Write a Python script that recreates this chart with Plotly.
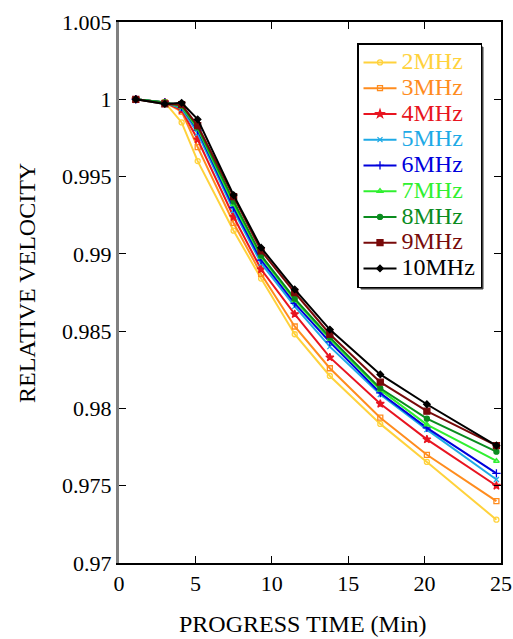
import plotly.graph_objects as go

time_min = [1.1, 3.0, 4.1, 5.15, 7.5, 9.3, 11.5, 13.8, 17.1, 20.15, 24.7]

v_2mhz = [1.0, 0.9998, 0.9985, 0.9960, 0.9915, 0.9884, 0.9848, 0.9821, 0.9790, 0.97654, 0.9728]
v_3mhz = [1.0, 0.9998, 0.9992, 0.9969, 0.9920, 0.9887, 0.9853, 0.9826, 0.9794, 0.9770, 0.9740]
v_4mhz = [1.0, 0.9998, 0.9993, 0.9974, 0.9924, 0.9890, 0.9861, 0.9833, 0.9803, 0.9780, 0.9750]
v_5mhz = [1.0, 0.9998, 0.9994, 0.9978, 0.9928, 0.9894, 0.9866, 0.9840, 0.9809, 0.97863, 0.9754]
v_6mhz = [1.0, 0.9998, 0.9995, 0.9980, 0.9930, 0.9896, 0.9868, 0.9843, 0.9810, 0.97874, 0.9758]
v_7mhz = [1.0, 0.9998, 0.9995, 0.9981, 0.9932, 0.9898, 0.9870, 0.9845, 0.9812, 0.97895, 0.9766]
v_8mhz = [1.0, 0.9998, 0.9996, 0.9982, 0.9934, 0.9899, 0.9871, 0.9846, 0.9813, 0.97934, 0.9772]
v_9mhz = [1.0, 0.9997, 0.99965, 0.9983, 0.9937, 0.9902, 0.9875, 0.9848, 0.9817, 0.97982, 0.9776]
v_10mhz = [1.0, 0.9997, 0.99977, 0.9987, 0.9938, 0.9904, 0.9877, 0.9851, 0.9822, 0.98027, 0.9776]

series_names = ["2MHz", "3MHz", "4MHz", "5MHz", "6MHz", "7MHz", "8MHz", "9MHz", "10MHz"]
series_values = [v_2mhz, v_3mhz, v_4mhz, v_5mhz, v_6mhz, v_7mhz, v_8mhz, v_9mhz, v_10mhz]
colors = ["#FFD23C", "#FF8C1E", "#E81420", "#1EAAE6", "#0000DC", "#30F030", "#0A8C1E", "#780A0A", "#000000"]
symbols = ["circle-open", "square-open", "star", "x-thin-open", "cross-thin-open",
           "triangle-up-open", "circle", "square", "diamond"]
sizes = [5, 5, 6, 5, 6, 5, 5, 6, 5]

y_tickvals = [0.97, 0.975, 0.98, 0.985, 0.99, 0.995, 1.0, 1.005]
y_ticktext = ["0.97", "0.975", "0.98", "0.985", "0.99", "0.995", "1", "1.005"]
x_tickvals = [0, 5, 10, 15, 20, 25]

FONT = "Liberation Serif, Times New Roman, serif"

fig = go.Figure()
for name, vals, col, sym, sz in zip(series_names, series_values, colors, symbols, sizes):
    fig.add_trace(go.Scatter(
        x=time_min, y=vals, mode="lines+markers",
        name=f'<span style="color:{col};font-size:24px">{name}</span>',
        line=dict(color=col, width=2),
        marker=dict(symbol=sym, size=sz, color=col, line=dict(color=col, width=1.3)),
    ))

# invisible trace on secondary axis to get a right-side black frame with ticks
fig.add_trace(go.Scatter(x=[None], y=[None], yaxis="y2", showlegend=False, hoverinfo="skip"))

W, H = 513, 639
L, R, T, B = 119, 12, 22, 76
PW, PH = W - L - R, H - T - B


def px_x(p):
    return (p - L) / PW


def px_y(p):
    return (H - B - p) / PH


fig.update_layout(
    width=W, height=H,
    margin=dict(l=L, r=R, t=T, b=B, autoexpand=False),
    paper_bgcolor="white", plot_bgcolor="white",
    font=dict(family=FONT, size=22, color="black"),
    showlegend=True,
    legend=dict(
        x=px_x(357), y=px_y(43), xanchor="left", yanchor="top",
        bgcolor="white", bordercolor="black", borderwidth=1.5,
        font=dict(family=FONT, size=17.5),
        tracegroupgap=0, itemwidth=33,
    ),
    shapes=[
        dict(type="rect", xref="paper", yref="paper",
             x0=px_x(361), x1=px_x(483), y0=px_y(289), y1=px_y(47),
             fillcolor="#404040", line=dict(color="#404040", width=1), layer="above"),
    ],
    xaxis=dict(
        range=[0, 25], tickvals=x_tickvals, ticks="inside", ticklen=7, tickcolor="black",
        showline=True, linecolor="black", linewidth=1.5, mirror="ticks",
        showgrid=False, zeroline=False, automargin=False,
        tickfont=dict(family=FONT, size=22),
    ),
    yaxis=dict(
        range=[0.97, 1.005], tickvals=y_tickvals, ticktext=y_ticktext,
        ticks="inside", ticklen=7, tickcolor="black",
        showline=True, linecolor="#808080", linewidth=3,
        showgrid=False, zeroline=False, automargin=False,
        tickfont=dict(family=FONT, size=22),
    ),
    yaxis2=dict(
        range=[0.97, 1.005], tickvals=y_tickvals, overlaying="y", side="right",
        ticks="inside", ticklen=7, tickcolor="black", showticklabels=False,
        showline=True, linecolor="black", linewidth=1.5,
        showgrid=False, zeroline=False, automargin=False,
    ),
    annotations=[
        dict(text="PROGRESS TIME (Min)", xref="paper", yref="paper", x=px_x(303), y=px_y(624),
             xanchor="center", yanchor="middle", showarrow=False,
             font=dict(family=FONT, size=24)),
        dict(text="RELATIVE VELOCITY", xref="paper", yref="paper", x=px_x(27), y=px_y(283),
             xanchor="center", yanchor="middle", showarrow=False, textangle=-90,
             font=dict(family=FONT, size=24)),
    ],
)

fig.write_html(
    "out.html",
    config={"displayModeBar": False},
    post_script="document.body.style.margin='0';document.documentElement.style.overflow='hidden';",
)
